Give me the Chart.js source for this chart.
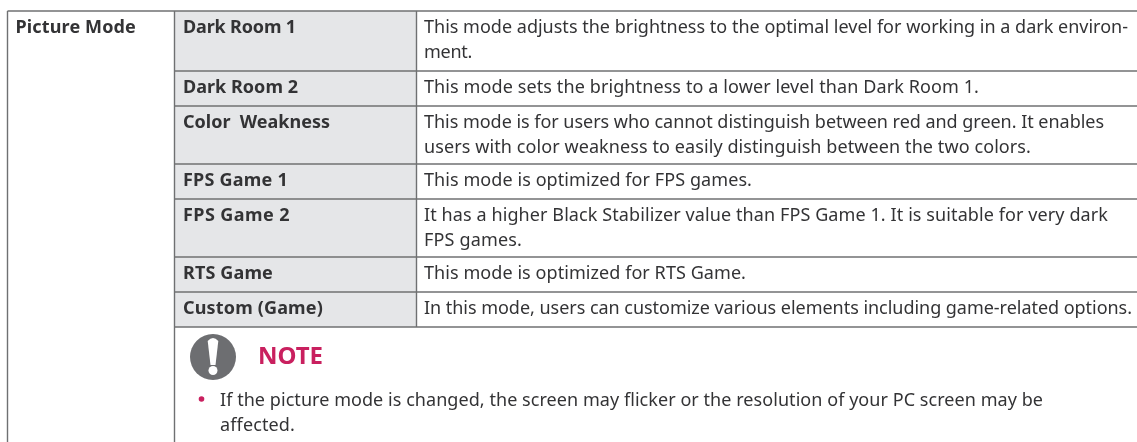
<!DOCTYPE html>
<html lang="en">
<head>
    <meta charset="UTF-8">
    <title>Picture Mode</title>
    <script src="https://cdn.jsdelivr.net/npm/chart.js"></script>
    <style>
        html, body { margin: 0; padding: 0; background: #fff; overflow: hidden; }
        canvas { display: block; }
    </style>
</head>
<body>
    <canvas id="tableChart" width="1137" height="442"></canvas>

    <script>
        // Table content
        const sectionTitle = 'Picture Mode';
        const modeNames = ['Dark Room 1', 'Dark Room 2', 'Color  Weakness', 'FPS Game 1', 'FPS Game 2', 'RTS Game', 'Custom (Game)'];
        const modeDescriptions = [
            ['This mode adjusts the brightness to the optimal level for working in a dark environ-', 'ment.'],
            ['This mode sets the brightness to a lower level than Dark Room 1.'],
            ['This mode is for users who cannot distinguish between red and green. It enables', 'users with color weakness to easily distinguish between the two colors.'],
            ['This mode is optimized for FPS games.'],
            ['It has a higher Black Stabilizer value than FPS Game 1. It is suitable for very dark', 'FPS games.'],
            ['This mode is optimized for RTS Game.'],
            ['In this mode, users can customize various elements including game-related options.']
        ];
        const noteTitle = 'NOTE';
        const noteLines = ['If the picture mode is changed, the screen may flicker or the resolution of your PC screen may be', 'affected.'];

        // Table geometry, in axis units
        const columnEdges = [7.5, 174.5, 416.5, 1137];
        const rowEdges = [11, 71, 106, 164, 199, 257, 292, 327];
        const tableBottom = 442;

        // Where each line of text ends in the reference (the font here runs a bit different)
        const sectionTitleEnd = 136;
        const modeNameEnds = [296, 298, 330, 288, 290, 273, 323];
        const descriptionEnds = [[1128, 472], [979], [1104, 1031], [752], [1108, 522], [746], [1132]];
        const noteEnds = [1043, 295];

        const FONT = '"Noto Sans", sans-serif';
        const INK = '#333335';
        const RULE = '#6f7072';
        const PINK = '#c9205f';

        function rule(x1, y1, x2, y2) {
            return {
                type: 'scatter', showLine: true, data: [{ x: x1, y: y1 }, { x: x2, y: y2 }],
                borderColor: RULE, borderWidth: 1.4, pointRadius: 0, order: 1
            };
        }

        const datasets = [];

        // shaded name column, drawn first (highest order)
        datasets.push({
            type: 'line', fill: 'shape', backgroundColor: '#e5e6e8', borderWidth: 0, pointRadius: 0, order: 5,
            data: [
                { x: columnEdges[1], y: rowEdges[0] },
                { x: columnEdges[2], y: rowEdges[0] },
                { x: columnEdges[2], y: rowEdges[7] },
                { x: columnEdges[1], y: rowEdges[7] }
            ]
        });

        // horizontal rules
        datasets.push(rule(columnEdges[0], rowEdges[0], columnEdges[3], rowEdges[0]));
        rowEdges.slice(1).forEach(y => datasets.push(rule(columnEdges[1], y, columnEdges[3], y)));

        // vertical rules
        datasets.push(rule(columnEdges[0], rowEdges[0], columnEdges[0], tableBottom));
        datasets.push(rule(columnEdges[1], rowEdges[0], columnEdges[1], tableBottom));
        datasets.push(rule(columnEdges[2], rowEdges[0], columnEdges[2], rowEdges[7]));

        // note icon and bullet
        datasets.push({
            type: 'scatter', data: [{ x: 213, y: 357 }], pointStyle: 'circle', pointRadius: 23,
            backgroundColor: '#6d6e71', borderWidth: 0, order: 1
        });
        datasets.push({
            type: 'scatter', data: [{ x: 201.5, y: 399 }], pointStyle: 'circle', pointRadius: 2.8,
            backgroundColor: PINK, borderWidth: 0, order: 1
        });

        // Text and the exclamation mark go on top of the datasets
        const tableText = {
            id: 'tableText',
            afterDraw(chart) {
                const { ctx, scales: { x, y } } = chart;
                const put = (text, px, py, font, color, end) => {
                    ctx.font = font;
                    ctx.fillStyle = color;
                    ctx.letterSpacing = '0px';
                    if (end) {
                        const extra = (end - px - ctx.measureText(text).width) / text.length;
                        ctx.letterSpacing = `${extra}px`;
                    }
                    ctx.fillText(text, x.getPixelForValue(px), y.getPixelForValue(py));
                };
                const bold = `bold 18px ${FONT}`;
                const body = `18px ${FONT}`;

                ctx.save();
                ctx.textBaseline = 'alphabetic';
                ctx.textAlign = 'left';

                put(sectionTitle, 15.5, rowEdges[0] + 22, bold, INK, sectionTitleEnd);
                modeNames.forEach((name, i) => {
                    put(name, columnEdges[1] + 8.5, rowEdges[i] + 22, bold, INK, modeNameEnds[i]);
                    modeDescriptions[i].forEach((line, j) => {
                        put(line, columnEdges[2] + 7.5, rowEdges[i] + 22 + j * 25, body, INK, descriptionEnds[i][j]);
                    });
                });

                put(noteTitle, 258, 364, `bold 24px ${FONT}`, PINK);
                noteLines.forEach((line, j) => put(line, 220, 406 + j * 25, body, INK, noteEnds[j]));

                // exclamation mark
                ctx.fillStyle = '#fff';
                ctx.beginPath();
                ctx.moveTo(x.getPixelForValue(207.7), y.getPixelForValue(341));
                ctx.quadraticCurveTo(x.getPixelForValue(213), y.getPixelForValue(335), x.getPixelForValue(218.3), y.getPixelForValue(341));
                ctx.lineTo(x.getPixelForValue(215.5), y.getPixelForValue(365));
                ctx.lineTo(x.getPixelForValue(210.5), y.getPixelForValue(365));
                ctx.closePath();
                ctx.fill();
                ctx.beginPath();
                ctx.arc(x.getPixelForValue(213), y.getPixelForValue(370.5), 4.5, 0, Math.PI * 2);
                ctx.fill();
                ctx.restore();
            }
        };

        new Chart(document.getElementById('tableChart').getContext('2d'), {
            type: 'scatter',
            data: { datasets },
            options: {
                responsive: false,
                animation: false,
                layout: { padding: 0, autoPadding: false },
                plugins: { legend: { display: false }, tooltip: { enabled: false }, title: { display: false } },
                scales: {
                    x: { type: 'linear', display: false, min: 0, max: 1137 },
                    y: { type: 'linear', display: false, min: 0, max: 442, reverse: true }
                }
            },
            plugins: [tableText]
        });
    </script>
</body>
</html>
